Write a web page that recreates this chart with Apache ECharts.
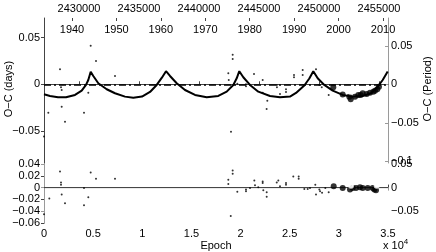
<!DOCTYPE html>
<html><head><meta charset="utf-8">
<script src="https://cdn.jsdelivr.net/npm/echarts@6/dist/echarts.min.js"></script>
<style>html,body{margin:0;padding:0;background:#fff}#c{width:436px;height:252px}</style>
</head><body><div id="c"></div>
<script>
// ---------- data ----------
const modelEpoch = [0,610,1424,2237,3154,3836,4273,4507,4751,5016,5525,6380,7224,8241,9086,9971,10785,11467,11976,12413,12820,13502,14346,15364,16554,17734,18589,19261,19607,19871,20278,20959,21804,22994,24012,25029,25640,26484,26993,27400,27847,28519,29373,30390,31408,32425,33270,33951,34460,34968];
const modelOC = [-0.0107,-0.0125,-0.0139,-0.0139,-0.0114,-0.0068,-0.0007,0.0046,0.0135,0.0089,0.0011,-0.0053,-0.0096,-0.0132,-0.0143,-0.0131,-0.0082,-0.0007,0.0068,0.0140,0.0089,0.0011,-0.0061,-0.0114,-0.0139,-0.0125,-0.0079,-0.0007,0.0064,0.0140,0.0075,-0.0007,-0.0079,-0.0125,-0.0139,-0.0131,-0.0093,-0.0013,0.0062,0.0140,0.0064,-0.0007,-0.0068,-0.0114,-0.0132,-0.0125,-0.0096,-0.0025,0.0046,0.0137];

const topSmallEpoch = [0,440,1628,1730,1800,1800,2136,4070,4507,4751,5290,7224,18753,18800,19197,19197,19025,19670,20550,20550,21365,22250,22250,22720,22650,23680,23700,24010,24620,24620,25435,25435,26320,26320,27675,28015,28260,28965];
const topSmallOC = [-0.0558,-0.0304,0.0160,-0.0032,-0.0061,-0.0240,-0.0400,-0.0304,-0.0090,0.0413,0.0249,0.0089,0.0118,0.0045,0.0316,0.0270,-0.0507,0.0005,0.0000,-0.0022,0.0110,0.0046,-0.0090,-0.0175,-0.0264,-0.0007,-0.0032,-0.0104,-0.0053,-0.0082,0.0099,0.0075,0.0153,0.0099,0.0160,-0.0007,-0.0032,-0.0114];

const topBigEpoch = [29434,30390,31061,31204,31641,31977,32221,32425,32831,33167,33503,33676,33910,34083];
const topBigOC = [-0.0032,-0.0110,-0.0133,-0.0160,-0.0133,-0.0114,-0.0114,-0.0096,-0.0104,-0.0090,-0.0079,-0.0068,-0.0053,-0.0026];

const topOpenEpoch = [31204];
const topOpenOC = [-0.0079];

const resSmallEpoch = [0,540,1628,1730,1730,1800,2136,4070,4070,4507,4751,5290,7224,18753,18753,19000,19197,19197,19670,20550,20550,20960,21400,21467,21800,22250,22250,22312,22660,22660,23680,23840,24010,24620,24620,25364,25913,25913,26484,26830,27063,27603,27675,28015,28086,28290,28620,28965];
const resSmallOC = [-0.045,-0.0183,0.0272,0.0088,0.0050,-0.0117,-0.0267,-0.0005,-0.030,-0.0162,0.0255,0.015,0.015,0.0133,0.0062,-0.048,0.029,0.0233,-0.0072,-0.0033,-0.0062,-0.0005,0.0122,0.0038,0.0005,0.0105,0.0078,-0.0045,-0.0078,-0.0155,0.0088,0.0122,0.0022,0.005,0.0078,0.0188,0.0188,0.015,-0.0022,-0.0022,-0.0005,0.005,-0.0117,-0.0033,-0.0062,-0.0088,-0.0005,-0.0078];

const resBigEpoch = [29474,30390,31132,31407,31743,32150,32425,32933,33442,33605,33778];
const resBigOC = [0.0022,-0.0005,-0.0033,-0.0005,-0.0005,0.0005,-0.0005,-0.0005,-0.0005,-0.0033,-0.0045];

const resOpenEpoch = [31234,33850];
const resOpenOC = [0.0033,0.0033];

const epochTicks = [0,5000,10000,15000,20000,25000,30000,35000];
const jdTicks = [2430000,2435000,2440000,2445000,2450000,2455000];
const yearTicks = [1940,1950,1960,1970,1980,1990,2000,2010];
const daysTicks = [-0.05,0,0.05];
const periodTicks = [-0.1,-0.05,0,0.05];
const resDaysTicks = [-0.06,-0.04,-0.02,0,0.02,0.04];
const resPeriodTicks = [-0.05,0,0.05];

// ---------- chart ----------
const pairs = (a,b) => a.map((v,i)=>[v,b[i]]);
const FONT = 'Liberation Sans, Arial, sans-serif';
const fmtNum = v => (v<0?'\u2212':'') + String(Math.abs(v));
const DARK = '#444', GRAY = '#9a9a9a';
const lbl = {fontFamily:FONT, fontSize:11, color:'#000'};

const chart = echarts.init(document.getElementById('c'), null, {renderer:'canvas'});
chart.setOption({
  animation:false,
  backgroundColor:'#fff',
  grid:[
    {left:44, width:344, top:18, height:145},
    {left:44, width:344, top:164, height:60, show:true, backgroundColor:'#fff', borderWidth:0, z:5}
  ],
  xAxis:[
    {gridIndex:0, type:'value', min:0, max:35000, show:false},
    {gridIndex:0, type:'value', position:'top', min:2427083, max:2455750,
      axisLine:{show:true, lineStyle:{color:DARK, width:1}},
      axisTick:{show:true, inside:false, length:3, lineStyle:{color:DARK}, customValues:jdTicks},
      axisLabel:{...lbl, margin:4, customValues:jdTicks, formatter:v=>String(v)},
      splitLine:{show:false}},
    {gridIndex:0, type:'value', position:'top', min:1933.7, max:2011.12,
      axisLine:{show:false},
      axisTick:{show:true, inside:true, length:3, lineStyle:{color:DARK}, customValues:yearTicks},
      axisLabel:{...lbl, inside:true, margin:6, customValues:yearTicks, formatter:v=>String(v)},
      splitLine:{show:false}},
    {gridIndex:1, type:'value', position:'bottom', min:0, max:35000,
      axisLine:{show:true, lineStyle:{color:DARK, width:1}},
      axisTick:{show:true, inside:true, length:3, lineStyle:{color:DARK}, customValues:epochTicks},
      axisLabel:{...lbl, margin:5, customValues:epochTicks, formatter:v=>String(v/10000)},
      splitLine:{show:false},
      name:'Epoch', nameLocation:'middle', nameGap:17, nameTextStyle:{fontFamily:FONT, fontSize:11, color:'#000'}},
    {gridIndex:1, type:'value', position:'top', min:0, max:35000,
      axisLine:{show:true, lineStyle:{color:GRAY, width:1}},
      axisTick:{show:true, inside:true, length:3, lineStyle:{color:GRAY}, customValues:epochTicks},
      axisLabel:{show:false}, splitLine:{show:false}}
  ],
  yAxis:[
    {gridIndex:0, type:'value', position:'left', min:-0.0842, max:0.0709,
      axisLine:{show:true, lineStyle:{color:DARK, width:1}},
      axisTick:{show:true, inside:false, length:3, lineStyle:{color:DARK}, customValues:daysTicks},
      axisLabel:{...lbl, margin:4, customValues:daysTicks, formatter:fmtNum},
      splitLine:{show:false}},
    {gridIndex:0, type:'value', position:'right', min:-0.1022, max:0.0861,
      axisLine:{show:true, lineStyle:{color:GRAY, width:1}},
      axisTick:{show:true, inside:true, length:3, lineStyle:{color:GRAY}, customValues:periodTicks},
      axisLabel:{...lbl, margin:3, customValues:periodTicks, formatter:fmtNum},
      splitLine:{show:false}},
    {gridIndex:1, type:'value', position:'left', min:-0.06, max:0.04,
      axisLine:{show:true, lineStyle:{color:DARK, width:1}},
      axisTick:{show:true, inside:false, length:3, lineStyle:{color:DARK}, customValues:resDaysTicks},
      axisLabel:{...lbl, margin:4, customValues:resDaysTicks, formatter:fmtNum},
      splitLine:{show:false}, z:6},
    {gridIndex:1, type:'value', position:'right', min:-0.0759, max:0.0506,
      axisLine:{show:true, lineStyle:{color:GRAY, width:1}},
      axisTick:{show:true, inside:true, length:3, lineStyle:{color:GRAY}, customValues:resPeriodTicks},
      axisLabel:{...lbl, margin:3, customValues:resPeriodTicks, formatter:fmtNum},
      splitLine:{show:false}, z:6}
  ],
  series:[
    {type:'line', xAxisIndex:0, yAxisIndex:0, data:pairs(modelEpoch, modelOC), showSymbol:false, symbol:'none',
      lineStyle:{color:'#000', width:2}, z:3, smooth:false,
      markLine:{silent:true, symbol:'none', label:{show:false}, animation:false,
        lineStyle:{color:'#000', width:1.5, type:[7,3,2,3]}, data:[{yAxis:0}]}},
    {type:'scatter', xAxisIndex:0, yAxisIndex:0, data:pairs(topSmallEpoch, topSmallOC), symbol:'circle', symbolSize:2,
      itemStyle:{color:'#000'}, z:4},
    {type:'scatter', xAxisIndex:0, yAxisIndex:0, data:pairs(topBigEpoch, topBigOC), symbol:'circle', symbolSize:6,
      itemStyle:{color:'#000'}, z:4},
    {type:'scatter', xAxisIndex:0, yAxisIndex:0, data:pairs(topOpenEpoch, topOpenOC), symbol:'emptyCircle', symbolSize:4,
      itemStyle:{color:'#fff', borderColor:'#333', borderWidth:0.8}, z:4},
    {type:'line', xAxisIndex:3, yAxisIndex:2, data:[[0,0],[35000,0]], symbol:'none',
      lineStyle:{color:'#333', width:1}, z:6},
    {type:'scatter', xAxisIndex:3, yAxisIndex:2, data:pairs(resSmallEpoch, resSmallOC), symbol:'circle', symbolSize:2,
      itemStyle:{color:'#000'}, z:7},
    {type:'scatter', xAxisIndex:3, yAxisIndex:2, data:pairs(resBigEpoch, resBigOC), symbol:'circle', symbolSize:6,
      itemStyle:{color:'#000'}, z:7},
    {type:'scatter', xAxisIndex:3, yAxisIndex:2, data:pairs(resOpenEpoch, resOpenOC), symbol:'emptyCircle', symbolSize:4,
      itemStyle:{color:'#fff', borderColor:'#333', borderWidth:0.8}, z:7}
  ],
  graphic:[
    {type:'text', x:9, y:89, rotation:Math.PI/2, z:10,
      style:{text:'O\u2212C (days)', fontFamily:FONT, fontSize:11, fill:'#000', align:'center', verticalAlign:'middle'}},
    {type:'text', x:428, y:89, rotation:Math.PI/2, z:10,
      style:{text:'O\u2212C (Period)', fontFamily:FONT, fontSize:11, fill:'#000', align:'center', verticalAlign:'middle'}},
    {type:'text', x:383, y:246, z:10,
      style:{text:'x 10{s|4}', fontFamily:FONT, fontSize:11, fill:'#000', align:'left', verticalAlign:'middle',
        rich:{s:{fontFamily:FONT, fontSize:8, fill:'#000', padding:[0,0,8,0]}}}}
  ]
});
</script></body></html>
